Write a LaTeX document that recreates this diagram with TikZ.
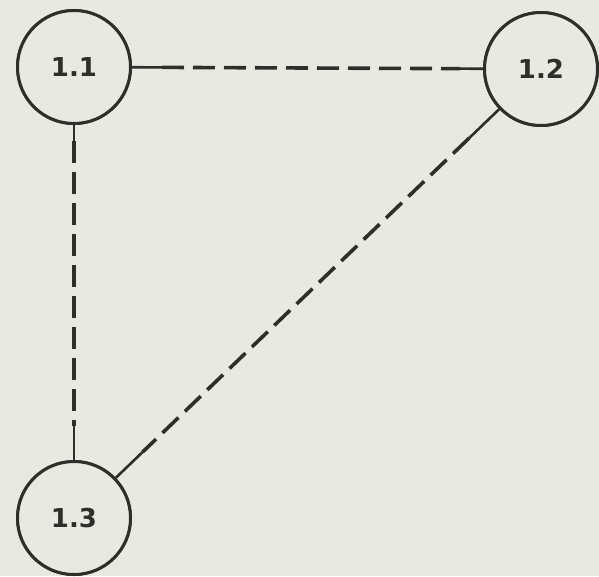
\documentclass[tikz,border=0pt]{standalone}
\usepackage{fontspec}
\setmainfont{DejaVu Sans}
\usetikzlibrary{calc}
\begin{document}
\begin{tikzpicture}[x=1pt,y=-1pt,
  state/.style={circle,draw=ink,line width=3pt,minimum size=113pt,inner sep=0pt,
    font=\fontsize{26}{28}\selectfont\bfseries,text=ink},
  link/.style={draw=ink,line width=3.6pt,dash pattern=on 22pt off 9pt},
  stub/.style={draw=ink,line width=2.6pt}]
\definecolor{ink}{HTML}{2E2E2A}
\definecolor{paper}{HTML}{EAE9E1}
\fill[paper] (0,0) rectangle (599,576);
\useasboundingbox (0,0) rectangle (599,576);
\node[state] (a) at (74,67) {1.1};
\node[state] (b) at (541,69) {1.2};
\node[state] (c) at (74,518) {1.3};
% 1.1 -- 1.2
\coordinate (ab1) at ($(a)!88pt!(b)$);
\coordinate (ab2) at ($(b)!81pt!(a)$);
\draw[stub] (a) -- (ab1);
\draw[stub] (b) -- (ab2);
\draw[link] (ab1) -- (ab2);
% 1.1 -- 1.3
\coordinate (ac1) at ($(a)!74pt!(c)$);
\coordinate (ac2) at ($(c)!92pt!(a)$);
\draw[stub] (a) -- (ac1);
\draw[stub] (c) -- (ac2);
\draw[link] (ac1) -- (ac2);
% 1.2 -- 1.3
\coordinate (bc1) at ($(b)!100pt!(c)$);
\coordinate (bc2) at ($(c)!95pt!(b)$);
\draw[stub] (b) -- (bc1);
\draw[stub] (c) -- (bc2);
\draw[link] (bc1) -- (bc2);
% redraw circles on top so stubs start at border
\node[state,fill=paper] at (a) {1.1};
\node[state,fill=paper] at (b) {1.2};
\node[state,fill=paper] at (c) {1.3};
\end{tikzpicture}
\end{document}
